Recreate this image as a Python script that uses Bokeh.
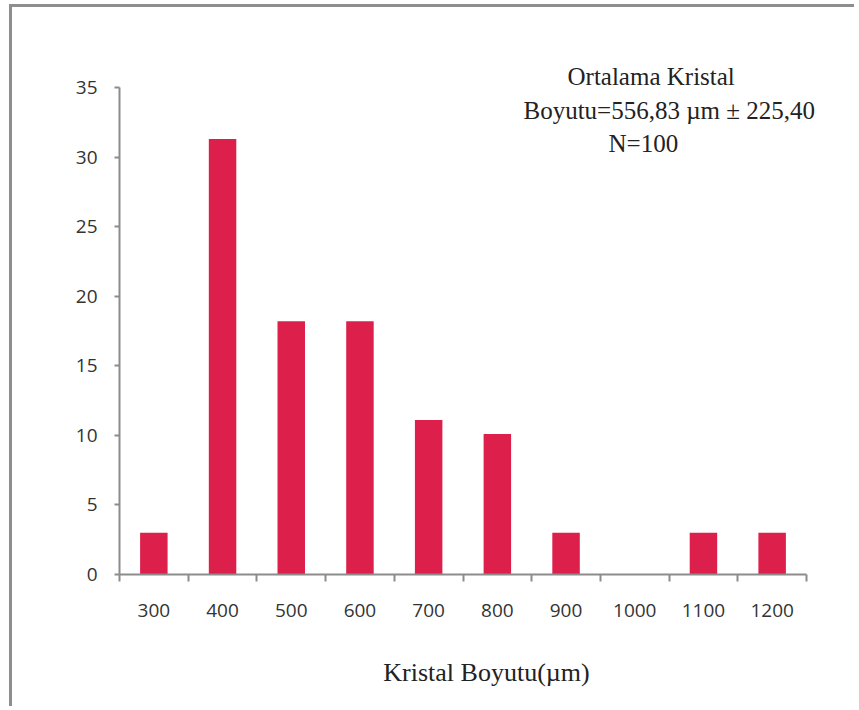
import numpy as np
from bokeh.plotting import figure
from bokeh.models import Range1d, FixedTicker, Label
from bokeh.embed import file_html
from bokeh.resources import INLINE

# ---- data ----
categories = ["300", "400", "500", "600", "700", "800", "900", "1000", "1100", "1200"]
counts = [3.0, 31.3, 18.2, 18.2, 11.1, 10.1, 3.0, 0.0, 3.0, 3.0]
y_ticks = [0, 5, 10, 15, 20, 25, 30, 35]
annot_lines = ["Ortalama Kristal", "Boyutu=556,83 \u00b5m \u00b1 225,40", "N=100"]
x_title = "Kristal Boyutu(\u00b5m)"

n = len(categories)
ymax = 35
centers = np.arange(n) + 0.5
bounds = list(range(0, n + 1))

# page geometry (content origin after margin + border)
OX, OY = 12, 7
FX0, FX1, FY0, FY1 = 119, 806, 87, 574      # axis extents on page
FRAME_R, FRAME_T = 853, 40                   # frame extents on page
W, H = 845, 702
BL = FX0 - OX
BT = FRAME_T - OY
BR = W - (FRAME_R - OX)
BB = H - (FY1 - OY)

ppx = (FX1 - FX0) / n
ppy = (FY1 - FY0) / ymax
x_end = (FRAME_R - FX0) / ppx
y_end = (FY1 - FRAME_T) / ppy

p = figure(width=W, height=H, output_backend="svg", toolbar_location=None,
           x_range=Range1d(0, x_end), y_range=Range1d(0, y_end),
           min_border_left=BL, min_border_right=BR, min_border_top=BT, min_border_bottom=BB)
p.styles = {"border-top": "3px solid #8e8e8e", "border-left": "3px solid #8e8e8e",
            "margin-left": "9px", "margin-top": "4px"}
p.outline_line_color = None
p.xgrid.visible = False
p.ygrid.visible = False
p.background_fill_color = "white"
p.border_fill_color = "white"

p.vbar(x=centers, top=counts, width=0.4, fill_color="#DC1F4B", line_color=None)

AX = "#8c8c8c"
xa = p.xaxis[0]
xa.bounds = (0, n)
xa.ticker = FixedTicker(ticks=list(centers), minor_ticks=bounds)
xa.major_label_overrides = {float(c): lab for c, lab in zip(centers, categories)}
xa.major_tick_out = 0
xa.major_tick_in = 0
xa.minor_tick_out = 7
xa.minor_tick_in = 0
xa.minor_tick_line_color = AX
xa.minor_tick_line_width = 2
xa.axis_line_color = AX
xa.axis_line_width = 2
xa.major_label_text_font = "Open Sans"
xa.major_label_text_font_size = "19px"
xa.major_label_text_color = "#333333"
xa.major_label_standoff = 22
xa.axis_label = x_title
xa.axis_label_text_font = "Liberation Serif"
xa.axis_label_text_font_size = "26px"
xa.axis_label_text_font_style = "normal"
xa.axis_label_text_color = "#222222"
xa.axis_label_standoff = 38

ya = p.yaxis[0]
ya.bounds = (0, ymax)
ya.ticker = FixedTicker(ticks=y_ticks)
ya.major_tick_out = 5
ya.major_tick_in = 0
ya.minor_tick_out = 0
ya.minor_tick_in = 0
ya.major_tick_line_color = AX
ya.major_tick_line_width = 2
ya.axis_line_color = AX
ya.axis_line_width = 2
ya.major_label_text_font = "Open Sans"
ya.major_label_text_font_size = "19px"
ya.major_label_text_color = "#333333"
ya.major_label_standoff = 17

def px(xp):
    return (xp - FX0) / ppx
def py(yp):
    return (FY1 - yp) / ppy

for txt, (xp, yp) in zip(annot_lines, [(567, 76), (523, 110), (608, 143)]):
    p.add_layout(Label(x=px(xp), y=py(yp), text=txt, text_font="Liberation Serif",
                       text_font_size="25px", text_color="#222222",
                       text_align="left", text_baseline="alphabetic"))

open("out.html", "w").write(file_html(p, INLINE))
